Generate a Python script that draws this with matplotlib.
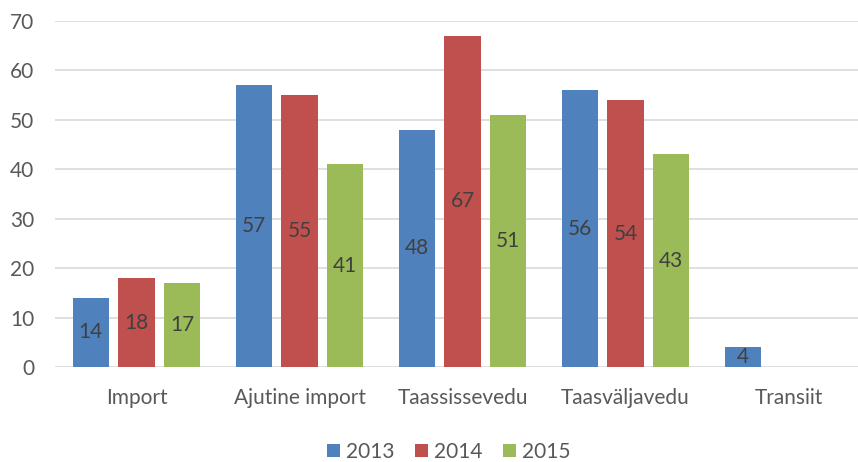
import numpy as np
import matplotlib
matplotlib.use('Agg')
import matplotlib.pyplot as plt

categories = ['Import', 'Ajutine import', 'Taassissevedu', 'Taasväljavedu', 'Transiit']
years = ['2013', '2014', '2015']
values_2013 = [14, 57, 48, 56, 4]
values_2014 = [18, 55, 67, 54, 0]
values_2015 = [17, 41, 51, 43, 0]
colors = ['#4F81BD', '#C0504D', '#9BBB59']

plt.rcParams['font.family'] = ['Lato', 'DejaVu Sans']

fig = plt.figure(figsize=(8.58, 4.62), dpi=100)
ax = fig.add_axes([55 / 858, 95 / 462, 815 / 858, 346 / 462])

x = np.arange(len(categories))
width = 0.222
step = 0.28
series = [values_2013, values_2014, values_2015]

for i, (vals, col, yr) in enumerate(zip(series, colors, years)):
    pos = x + (i - 1) * step
    ax.bar(pos, vals, width, color=col, label=yr, zorder=3)
    for p, v in zip(pos, vals):
        if v > 0:
            ax.text(p, v / 2, str(v), ha='center', va='center',
                    fontsize=15, color='#404040', zorder=4)

ax.set_xlim(-0.5, len(categories) - 0.5)
ax.set_ylim(0, 70)
ax.set_yticks(range(0, 71, 10))
ax.set_xticks(x)
ax.set_xticklabels(categories)
ax.tick_params(axis='both', length=0, labelsize=15, labelcolor='#595959')
ax.tick_params(axis='y', pad=15)
ax.tick_params(axis='x', pad=15)
ax.grid(axis='y', color='#D9D9D9', linewidth=1.2, zorder=0)
for s in ax.spines.values():
    s.set_visible(False)

fig.legend(loc='center', bbox_to_anchor=(449 / 858, 10 / 462), ncol=3, frameon=False,
           fontsize=15, labelcolor='#595959', handlelength=0.6, handleheight=0.6,
           handletextpad=0.3, columnspacing=1.0)

fig.savefig('out.png', dpi=100)
